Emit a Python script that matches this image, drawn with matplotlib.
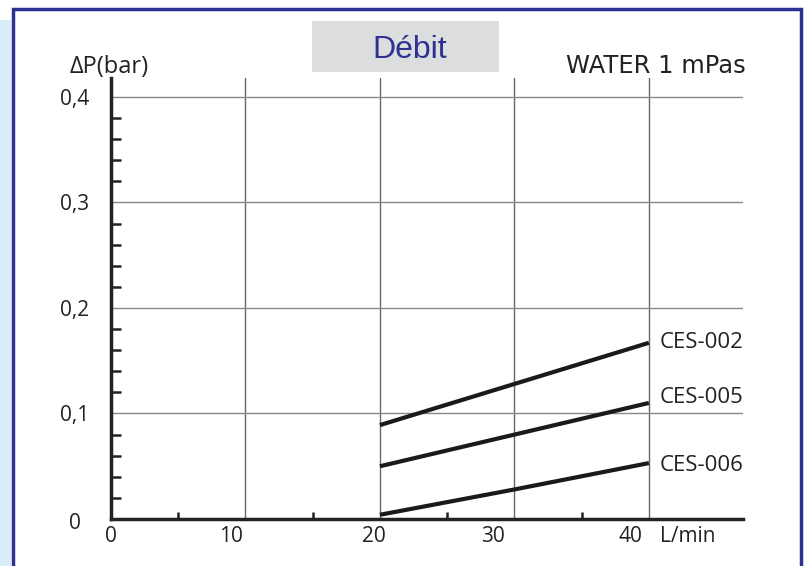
import numpy as np
import matplotlib
matplotlib.use("Agg")
import matplotlib.pyplot as plt
from matplotlib.patches import Rectangle
from matplotlib.transforms import ScaledTranslation

# data
flow = [20, 30, 40]
ces002 = [0.089, 0.128, 0.167]
ces005 = [0.050, 0.080, 0.110]
ces006 = [0.004, 0.028, 0.053]
series = [("CES-002", ces002, 0.167), ("CES-005", ces005, 0.115), ("CES-006", ces006, 0.051)]

x_ticks = [0, 10, 20, 30, 40]
x_labels = ["0", "10", "20", "30", "40"]
y_ticks = [0, 0.1, 0.2, 0.3, 0.4]
y_labels = ["0", "0,1", "0,2", "0,3", "0,4"]

blue = "#2e3192"
hum = "Open Sans"
ink = "#222222"

fig = plt.figure(figsize=(8.08, 5.66), dpi=100)

# frame + light blue strip on the left
fig.patches.append(Rectangle((0, 0), 11 / 808, 1 - 20 / 566, transform=fig.transFigure,
                             facecolor="#d8edf9", edgecolor="none", zorder=0))
fig.patches.append(Rectangle((12.5 / 808, -0.05), (801 - 12.5) / 808, 1.05 - 8.5 / 566,
                             transform=fig.transFigure, facecolor="white",
                             edgecolor=blue, linewidth=2.5, zorder=1))

ax = fig.add_axes([111 / 808, 1 - 519 / 566, (743 - 111) / 808, (519 - 78) / 566])
ax.set_zorder(5)
ax.set_facecolor("none")
ax.set_xlim(0, 47)
ax.set_ylim(0, 0.418)

for s in ["top", "right"]:
    ax.spines[s].set_visible(False)
for s in ["left", "bottom"]:
    ax.spines[s].set_linewidth(2.5)
    ax.spines[s].set_color(ink)

# grid
for xv in x_ticks[1:]:
    ax.axvline(xv, color="#666666", lw=1.0, zorder=1)
for yv in y_ticks[1:]:
    ax.axhline(yv, color="#888888", lw=1.0, zorder=1)

ax.set_xticks(x_ticks)
ax.set_xticklabels(x_labels, fontfamily=hum, fontsize=15, color=ink)
ax.set_xticks([5, 15, 25, 35], minor=True)
ax.set_yticks(y_ticks)
ax.set_yticklabels(y_labels, fontfamily=hum, fontsize=15, color=ink)
ax.set_yticks([v for v in np.arange(0.02, 0.41, 0.02) if abs(v * 10 - round(v * 10)) > 1e-6], minor=True)

ax.tick_params(axis="x", which="major", length=0, pad=5)
ax.tick_params(axis="y", which="major", length=0, pad=16)
ax.tick_params(axis="x", which="minor", direction="in", length=5, width=1.8, color=ink)
ax.tick_params(axis="y", which="minor", direction="in", length=7, width=1.8, color=ink)

offsets = [0, -14, -6, -21, -18]
for lab, dx in zip(ax.get_xticklabels(), offsets):
    lab.set_transform(lab.get_transform() + ScaledTranslation(dx / 100, 0, fig.dpi_scale_trans))
zero = ax.get_yticklabels()[0]
zero.set_transform(zero.get_transform() + ScaledTranslation(-0.08, -0.02, fig.dpi_scale_trans))

for name, vals, ly in series:
    ax.plot(flow, vals, color="#1a1a1a", lw=3, solid_capstyle="butt", zorder=3)
    ax.text(40.8, ly, name, fontfamily=hum, fontsize=16, color=ink,
            va="center", ha="left", clip_on=False)

ax.text(40.8, -0.017, "L/min", fontfamily=hum, fontsize=15, color=ink,
        va="center", ha="left", clip_on=False)

fig.text(70 / 808, 1 - 67 / 566, "ΔP(bar)", fontfamily=hum, fontsize=17,
         color=ink, va="center", ha="left")
fig.text(746 / 808, 1 - 66 / 566, "WATER 1 mPas", fontfamily="DejaVu Sans",
         fontsize=17.5, color=ink, va="center", ha="right")

# title box
fig.patches.append(Rectangle((312 / 808, 1 - 72 / 566), (499 - 312) / 808, (72 - 21) / 566,
                             transform=fig.transFigure, facecolor="#dcdddf",
                             edgecolor="none", zorder=2))
fig.text(410 / 808, 1 - 50 / 566, "Débit", fontfamily="Liberation Sans", fontsize=23,
         color=blue, va="center", ha="center", zorder=3)

fig.savefig("out.png", dpi=100)
